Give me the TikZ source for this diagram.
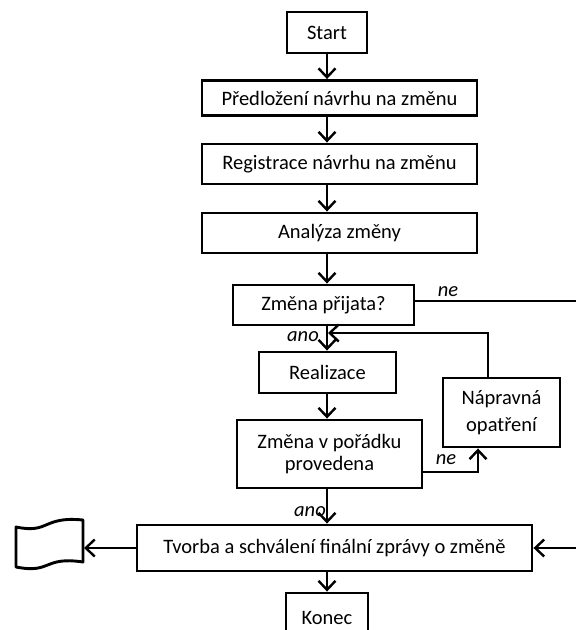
\documentclass[tikz,border=0pt]{standalone}
\usepackage{fontspec}
\setmainfont{Carlito}
\usetikzlibrary{arrows.meta,calc}
\begin{document}
\begin{tikzpicture}[x=1pt,y=-1pt,
  every node/.style={font=\fontsize{20.5}{24}\selectfont},
  stepbox/.style={draw, line width=2.9pt, inner sep=0pt, align=center},
  flow/.style={line width=2.4pt, -{Straight Barb[length=9pt,width=17pt,line width=2.4pt]}},
  plain/.style={line width=2.4pt},
  lbl/.style={font=\fontsize{20.5}{24}\selectfont\itshape}
]
\useasboundingbox (0,0) rectangle (576,630);

% process boxes
\node[stepbox, minimum width=80pt, minimum height=41pt] (start) at (327,32.5) {Start};
\node[stepbox, minimum width=275pt, minimum height=35pt] (pred) at (339.5,98) {Předložení návrhu na změnu};
\node[stepbox, minimum width=275pt, minimum height=40pt] (reg) at (339.5,164) {Registrace návrhu na změnu};
\node[stepbox, minimum width=275pt, minimum height=40pt] (anal) at (339.5,233) {Analýza změny};
\node[stepbox, minimum width=181pt, minimum height=40pt] (prij) at (323.5,305) {Změna přijata?};
\node[stepbox, minimum width=137pt, minimum height=41pt] (real) at (327.5,372.5) {Realizace};
\node[stepbox, minimum width=117pt, minimum height=69pt,
      font=\fontsize{20.5}{27.5}\selectfont] (naprava) at (501.5,412.5) {Nápravná\\opatření};
\node[stepbox, minimum width=185pt, minimum height=68pt,
      font=\fontsize{20.5}{22}\selectfont] (porad) at (329.5,454) {Změna v pořádku\\provedena};
\node[stepbox, minimum width=395pt, minimum height=46pt] (tvorba) at (334.5,548) {Tvorba a schválení finální zprávy o změně};
\node[stepbox, minimum width=82pt, minimum height=50pt] (konec) at (327,618) {Konec};

% document symbol on the left
\draw[line width=2.9pt, line join=round]
  (16,527) .. controls (50,534) and (42,516) .. (83,520)
  -- (83,562) .. controls (43,556) and (52,574) .. (16,567) -- cycle;
\coordinate (doc) at (84,546);

% main flow
\draw[flow] (start.south) -- (start.south |- pred.north);
\draw[flow] (start.south |- pred.south) -- (start.south |- reg.north);
\draw[flow] (start.south |- reg.south) -- (start.south |- anal.north);
\draw[flow] (start.south |- anal.south) -- (start.south |- prij.north);
\draw[flow] (start.south |- prij.south) -- (start.south |- real.north);
\draw[flow] (start.south |- real.south) -- (start.south |- porad.north);
\draw[flow] (start.south |- porad.south) -- (start.south |- tvorba.north);
\draw[flow] (start.south |- tvorba.south) -- (start.south |- konec.north);

% rejection path around the right side
\coordinate (rtop) at (582,301);
\coordinate (rbot) at (582,548);
\draw[plain] ([yshift=4pt]prij.east) -- (rtop) -- (rbot);
\draw[flow] (rbot) -- (tvorba.east);

% corrective loop
\coordinate (loop) at (328,333);
\draw[flow] ([xshift=-13.5pt]naprava.north) |- (loop);
\draw[flow] ([yshift=-18pt]porad.east) -| ([xshift=-23.5pt]naprava.south);

% final report to document
\draw[flow] (tvorba.west) -- (tvorba.west -| doc);

% branch labels
\node[lbl] (ne1) at (448,292) {ne};
\node[lbl] (ano1) at (303,337) {ano};
\node[lbl] (ne2) at (446,460) {ne};
\node[lbl] (ano2) at (310,512) {ano};
\end{tikzpicture}
\end{document}
